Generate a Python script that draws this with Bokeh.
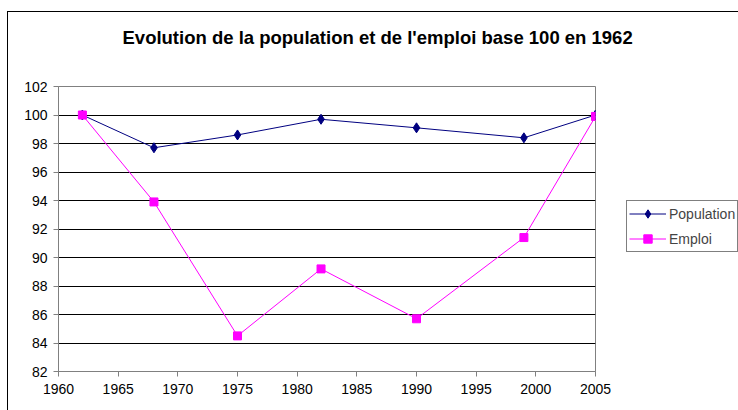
from bokeh.plotting import figure
from bokeh.models import Range1d, FixedTicker, Legend, LegendItem, Title, LinearAxis
from bokeh.embed import file_html
from bokeh.resources import INLINE

years = [1962, 1968, 1975, 1982, 1990, 1999, 2005]
population = [100.0, 97.7, 98.6, 99.7, 99.1, 98.4, 100.0]
emploi = [100.0, 93.9, 84.5, 89.2, 85.7, 91.4, 99.9]
x_ticks = [1960, 1965, 1970, 1975, 1980, 1985, 1990, 1995, 2000, 2005]
y_ticks = [82, 84, 86, 88, 90, 92, 94, 96, 98, 100, 102]
title_text = "Evolution de la population et de l'emploi base 100 en 1962"
series_names = ["Population", "Emploi"]

FONT = "Liberation Sans"
POP_COLOR = "#000080"
EMP_COLOR = "#FF00FF"

p = figure(frame_width=537, frame_height=285, output_backend="svg", toolbar_location=None,
           x_range=Range1d(1960, 2005), y_range=Range1d(82, 102),
           min_border_left=50, min_border_right=143, min_border_top=74, min_border_bottom=39,
           styles={"border-left": "1px solid black", "border-top": "1px solid black",
                   "position": "relative", "left": "7px", "top": "11px"})
p.title = None

xaxis = p.below[0]
yaxis = p.left[0]
xaxis.ticker = FixedTicker(ticks=x_ticks)
yaxis.ticker = FixedTicker(ticks=y_ticks)
for ax in (xaxis, yaxis):
    ax.axis_line_color = "#808080"
    ax.major_tick_line_color = "#808080"
    ax.major_tick_out = 5
    ax.major_tick_in = 0
    ax.minor_tick_line_color = None
    ax.major_label_text_font = FONT
    ax.major_label_text_font_size = "14px"
    ax.major_label_text_color = "black"
xaxis.major_label_standoff = 7
yaxis.major_label_standoff = 6

# invisible spacer between plot area and title (one hidden tick, nothing drawn)
top_spacer = LinearAxis(ticker=FixedTicker(ticks=[x_ticks[0]]), major_tick_out=28, major_tick_in=0,
                        major_label_standoff=0, axis_line_color=None,
                        major_tick_line_color=None, minor_tick_line_color=None,
                        major_label_text_color=None, major_label_text_font_size="1px")
p.add_layout(top_spacer, "above")

t = Title(text=title_text, align="left", offset=64, text_font=FONT,
          text_font_size="18.5px", text_font_style="bold", text_color="black", standoff=22)
p.add_layout(t, "above")

p.xgrid.grid_line_color = None
p.ygrid.grid_line_color = "black"
p.ygrid.grid_line_alpha = 1
p.outline_line_color = "#808080"
p.background_fill_color = "white"

l1 = p.line(years, population, line_color=POP_COLOR, line_width=1)
m1 = p.scatter(years, population, marker="diamond", size=10, fill_color=POP_COLOR, line_color=POP_COLOR)
l2 = p.line(years, emploi, line_color=EMP_COLOR, line_width=1)
m2 = p.scatter(years, emploi, marker="square", size=8, fill_color=EMP_COLOR, line_color=EMP_COLOR)

legend = Legend(items=[LegendItem(label=series_names[0], renderers=[l1, m1]),
                       LegendItem(label=series_names[1], renderers=[l2, m2])],
                location=(31, 119), label_text_font=FONT, label_text_font_size="14px",
                border_line_color="black", border_line_width=1, padding=2, spacing=4,
                glyph_width=37, glyph_height=21, label_standoff=3, margin=0,
                background_fill_color="white", background_fill_alpha=1)
p.add_layout(legend, "right")

open("out.html", "w").write(file_html(p, INLINE))
